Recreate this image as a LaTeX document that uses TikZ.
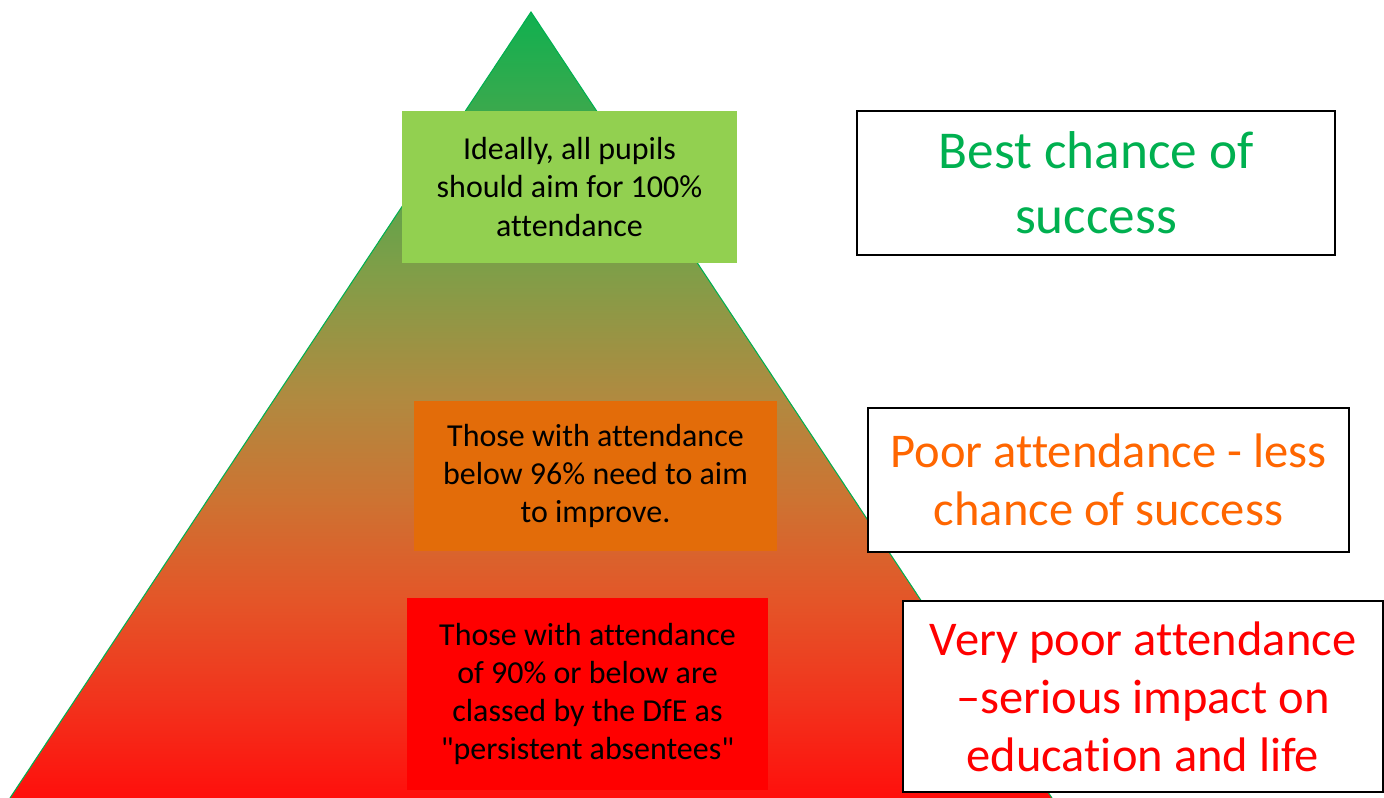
\documentclass[tikz,border=0pt]{standalone}
\usepackage{fontspec}
\setmainfont{Carlito}[Ligatures={NoCommon}]
\usepackage{tikz}
\usetikzlibrary{calc}

\definecolor{boxGreen}{RGB}{146,208,80}
\definecolor{boxOrange}{RGB}{227,108,9}
\definecolor{boxRed}{RGB}{255,0,0}
\definecolor{txtGreen}{RGB}{0,176,80}
\definecolor{txtOrange}{RGB}{255,102,0}
\definecolor{txtRed}{RGB}{255,0,0}
\definecolor{pyr0}{RGB}{16,176,80}
\definecolor{pyr1}{RGB}{128,158,72}
\definecolor{pyr2}{RGB}{176,138,64}
\definecolor{pyr3}{RGB}{205,115,50}
\definecolor{pyr4}{RGB}{228,85,40}
\definecolor{pyr5}{RGB}{242,50,28}
\definecolor{pyr6}{RGB}{255,15,12}

\pgfdeclareverticalshading{pyramid}{100bp}{
  color(0bp)=(pyr6); color(25bp)=(pyr6); color(31bp)=(pyr5);
  color(37.5bp)=(pyr4); color(44bp)=(pyr3); color(50.5bp)=(pyr2);
  color(58.5bp)=(pyr1); color(75bp)=(pyr0); color(100bp)=(pyr0)}

\begin{document}
\begin{tikzpicture}[x=0.02cm,y=-0.02cm,align=center,
    level/.style={inner sep=2pt,font=\fontsize{18.2}{21.8}\selectfont},
    verdict/.style={draw=black,line width=1pt,fill=white,inner sep=2pt,font=\fontsize{27.6}{33}\selectfont}]
  \useasboundingbox (0,0) rectangle (1384,798);
  % pyramid
  \coordinate (apex) at (531,12);
  \coordinate (baseL) at (10,798);
  \coordinate (baseR) at (1052,798);
  \shade[shading=pyramid] (apex) -- (baseR) -- (baseL) -- cycle;
  \draw[txtGreen,line width=0.6pt] (baseL) -- (apex) -- (baseR);
  % levels
  \node[level,fill=boxGreen,minimum width=6.7cm,minimum height=3.04cm] (ideal) at (569.5,187)
    {Ideally, all pupils\\should aim for 100\%\\attendance};
  \node[level,fill=boxOrange,minimum width=7.26cm,minimum height=3.02cm] (improve) at (595.5,476)
    {Those with attendance\\below 96\% need to aim\\to improve.};
  \node[level,fill=boxRed,minimum width=7.22cm,minimum height=3.86cm] (persist) at (587.5,694)
    {Those with attendance\\of 90\% or below are\\classed by the DfE as\\\textquotedbl persistent absentees\textquotedbl};
  % verdicts
  \node[verdict,text=txtGreen,font=\fontsize{30.3}{37}\selectfont,minimum width=9.56cm,minimum height=2.88cm] (best) at (1096,183)
    {Best chance of\\success};
  \node[verdict,text=txtOrange,minimum width=9.62cm,minimum height=2.88cm] (poor) at (1108.5,480)
    {Poor attendance - less\\chance of success};
  \node[verdict,text=txtRed,minimum width=9.6cm,minimum height=3.82cm] (verypoor) at (1143,696.5)
    {Very poor attendance\\–serious impact on\\education and life};
\end{tikzpicture}
\end{document}
